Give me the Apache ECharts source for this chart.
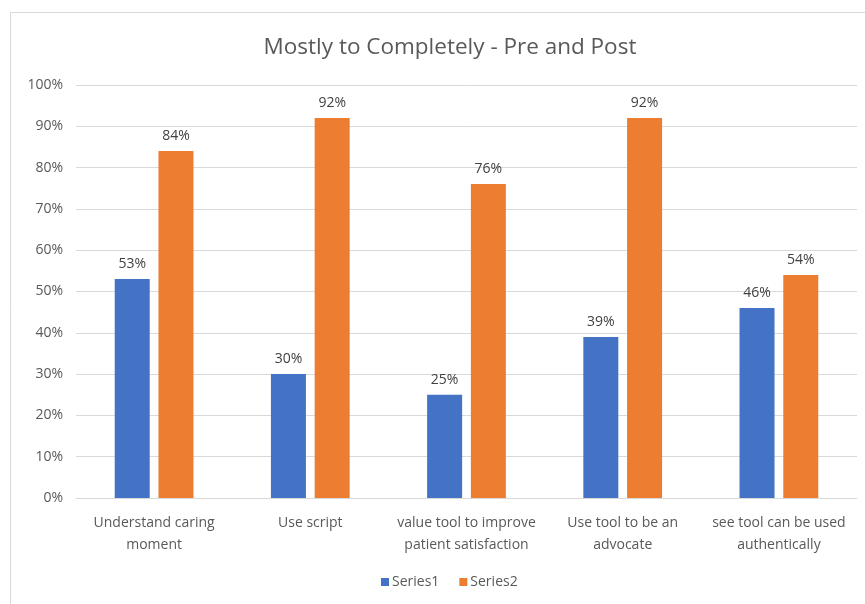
<!DOCTYPE html>
<html>
<head>
<meta charset="utf-8">
<script src="https://cdn.jsdelivr.net/npm/echarts@6/dist/echarts.min.js"></script>
<style>
html,body{margin:0;padding:0;background:#fff;}
#c{width:865px;height:604px;}
</style>
</head>
<body>
<div id="c"></div>
<script>
var categories = ['Understand caring moment', 'Use script', 'value tool to improve patient satisfaction', 'Use tool to be an advocate', 'see tool can be used authentically'];
var categoryLabels = ['Understand caring\nmoment', 'Use script', 'value tool to improve\npatient satisfaction', 'Use tool to be an\nadvocate', 'see tool can be used\nauthentically'];
var series1 = [53, 30, 25, 39, 46];
var series2 = [84, 92, 76, 92, 54];
var yTicks = [0, 10, 20, 30, 40, 50, 60, 70, 80, 90, 100];

var FONT = "'Open Sans', sans-serif";
var chart = echarts.init(document.getElementById('c'));
chart.setOption({
  animation: false,
  textStyle: { fontFamily: FONT },
  graphic: [{
    type: 'rect', silent: true, z: -1,
    shape: { x: 10.5, y: 12.5, width: 900, height: 700 },
    style: { fill: 'none', stroke: '#d9d9d9', lineWidth: 1 }
  }],
  title: {
    text: 'Mostly to Completely - Pre and Post',
    left: 445, top: 31, textAlign: 'center',
    textStyle: { fontFamily: FONT, fontSize: 22.5, fontWeight: 'normal', color: '#595959' }
  },
  legend: {
    bottom: 10, left: 376,
    icon: 'rect', itemWidth: 8, itemHeight: 8, itemGap: 20,
    textStyle: { fontFamily: FONT, fontSize: 14, color: '#595959', padding: [0, 0, 0, -2] },
    data: ['Series1', 'Series2']
  },
  grid: { left: 76, right: 8, top: 85, bottom: 106, containLabel: false },
  xAxis: {
    type: 'category',
    data: categories,
    axisTick: { show: false },
    axisLine: { lineStyle: { color: '#d9d9d9' } },
    axisLabel: {
      interval: 0, margin: 14, lineHeight: 22,
      fontFamily: FONT, fontSize: 14, color: '#595959',
      formatter: function (v, i) { return categoryLabels[i]; }
    }
  },
  yAxis: {
    type: 'value', min: 0, max: 100, interval: 10,
    axisLine: { show: false }, axisTick: { show: false },
    splitLine: { lineStyle: { color: '#d9d9d9' } },
    axisLabel: {
      fontFamily: FONT, fontSize: 14, color: '#595959', margin: 13,
      formatter: function (v) { return yTicks.indexOf(v) >= 0 ? v + '%' : ''; }
    }
  },
  series: [{
    name: 'Series1', type: 'bar', data: series1,
    barWidth: 35, barGap: '25%',
    itemStyle: { color: '#4472C4' },
    label: { show: true, position: 'top', distance: 8, formatter: '{c}%', fontFamily: FONT, fontSize: 14, color: '#404040' }
  }, {
    name: 'Series2', type: 'bar', data: series2,
    barWidth: 35,
    itemStyle: { color: '#ED7D31' },
    label: { show: true, position: 'top', distance: 8, formatter: '{c}%', fontFamily: FONT, fontSize: 14, color: '#404040' }
  }]
});
</script>
</body>
</html>
